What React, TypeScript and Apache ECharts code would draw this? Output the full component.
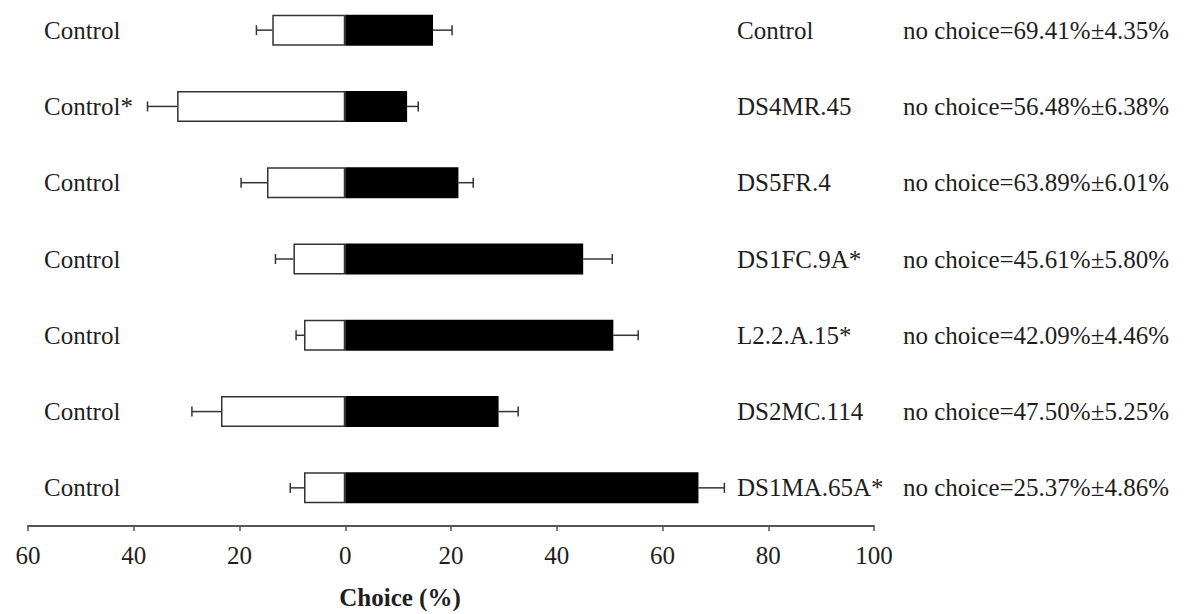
import React, { useEffect, useRef } from "react";
import * as echarts from "echarts";

const categories = ["Control", "DS4MR.45", "DS5FR.4", "DS1FC.9A*", "L2.2.A.15*", "DS2MC.114", "DS1MA.65A*"];
const leftLabels = ["Control", "Control*", "Control", "Control", "Control", "Control", "Control"];
const noChoiceLabels = [
  "no choice=69.41%±4.35%",
  "no choice=56.48%±6.38%",
  "no choice=63.89%±6.01%",
  "no choice=45.61%±5.80%",
  "no choice=42.09%±4.46%",
  "no choice=47.50%±5.25%",
  "no choice=25.37%±4.86%",
];
const controlChoice = [-13.8, -31.8, -14.8, -9.8, -7.8, -23.5, -7.8];
const controlErr = [3.0, 5.6, 4.9, 3.4, 1.5, 5.5, 2.6];
const treatChoice = [16.6, 11.7, 21.4, 45.0, 50.7, 29.0, 66.8];
const treatErr = [3.6, 2.1, 2.8, 5.5, 4.7, 3.7, 4.9];
const xTicks = { min: -60, max: 100, interval: 20 };

const FONT = "'Liberation Serif', 'Times New Roman', serif";
const TXT = "#1e1e1e";
const SHIFT = 8;

export default function App() {
  const ref = useRef<HTMLDivElement>(null);
  useEffect(() => {
    if (!ref.current) return;
    const chart = echarts.init(ref.current, undefined, { renderer: "svg" });
    const errData: number[][] = [];
    categories.forEach((_, i) => {
      errData.push([i, controlChoice[i], controlChoice[i] - controlErr[i]]);
      errData.push([i, treatChoice[i], treatChoice[i] + treatErr[i]]);
    });
    const labelStyle = { fontFamily: FONT, fontSize: 25, color: TXT };
    chart.setOption({
      animation: false,
      backgroundColor: "#ffffff",
      grid: { left: 28, right: 327, top: 0, bottom: 88, containLabel: false },
      xAxis: {
        type: "value",
        min: xTicks.min,
        max: xTicks.max,
        interval: xTicks.interval,
        axisLine: { show: true, lineStyle: { color: "#555", width: 2 } },
        axisTick: { show: true, length: 5, lineStyle: { color: "#555", width: 1.5 } },
        splitLine: { show: false },
        axisLabel: {
          ...labelStyle,
          margin: 17,
          formatter: (v: number) => String(Math.abs(v)),
        },
      },
      yAxis: [
        {
          type: "category",
          data: categories,
          inverse: true,
          position: "left",
          axisLine: { show: false },
          axisTick: { show: false },
          axisLabel: {
            ...labelStyle,
            align: "left",
            margin: -16,
            formatter: (_v: string, i: number) => leftLabels[i],
          },
        },
        {
          type: "category",
          data: categories,
          inverse: true,
          position: "right",
          axisLine: { show: false },
          axisTick: { show: false },
          axisLabel: { ...labelStyle, align: "left", margin: -137 },
        },
        {
          type: "category",
          data: categories,
          inverse: true,
          position: "right",
          axisLine: { show: false },
          axisTick: { show: false },
          axisLabel: {
            ...labelStyle,
            align: "left",
            margin: 29,
            formatter: (_v: string, i: number) => noChoiceLabels[i],
          },
        },
      ],
      series: [
        {
          type: "bar",
          name: "Control",
          data: controlChoice,
          barWidth: 31,
          barGap: "-100%",
          itemStyle: { color: "#ffffff", borderColor: "#333", borderWidth: 1.5 },
        },
        {
          type: "bar",
          name: "Treatment",
          data: treatChoice,
          barWidth: 31,
          itemStyle: { color: "#000000" },
        },
        {
          type: "custom",
          name: "err",
          z: 5,
          encode: { x: [1, 2], y: 0 },
          data: errData,
          renderItem: (params: any, api: any) => {
            const cat = api.value(0);
            const p0 = api.coord([api.value(1), cat]);
            const p1 = api.coord([api.value(2), cat]);
            const h = 5;
            const style = { stroke: "#333", lineWidth: 1.5 };
            return {
              type: "group",
              children: [
                { type: "line", shape: { x1: p0[0], y1: p0[1], x2: p1[0], y2: p1[1] }, style },
                { type: "line", shape: { x1: p1[0], y1: p1[1] - h, x2: p1[0], y2: p1[1] + h }, style },
              ],
            };
          },
        },
      ],
      graphic: [
        {
          type: "text",
          x: 400,
          y: 597 + SHIFT,
          style: {
            text: "Choice (%)",
            fontFamily: FONT,
            fontSize: 25,
            fontWeight: "bold",
            fill: TXT,
            align: "center",
            verticalAlign: "middle",
          },
        },
      ],
    });
    return () => chart.dispose();
  }, []);
  return (
    <div
      ref={ref}
      style={{ position: "fixed", left: 0, top: -SHIFT, width: 1201, height: 614 + SHIFT, background: "#fff" }}
    />
  );
}
